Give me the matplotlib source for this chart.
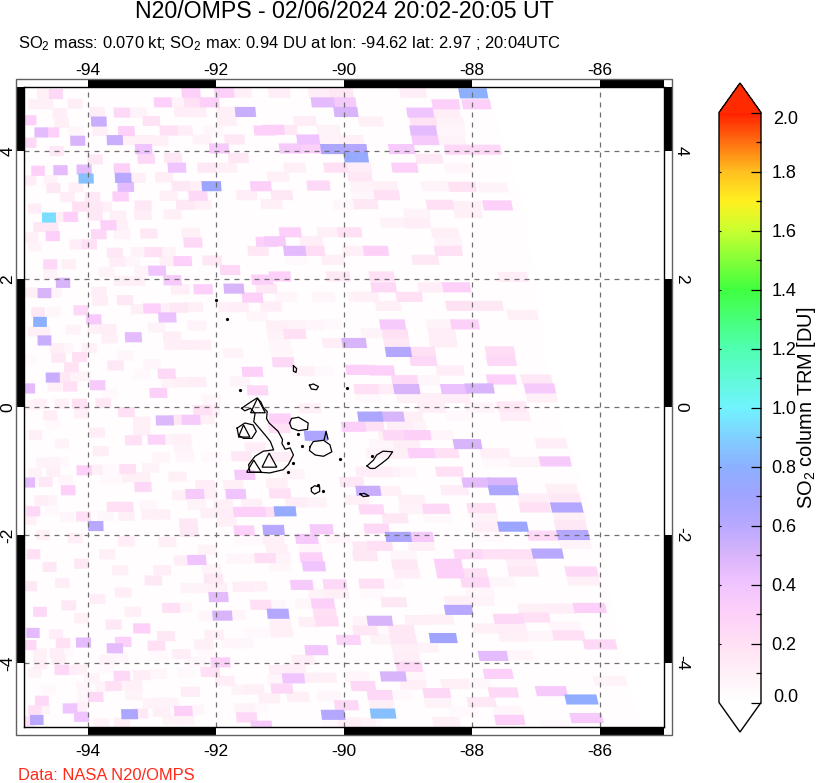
# Plot one OMPS SO2 overpass of the Galapagos, cells
import matplotlib
matplotlib.use('Agg')
import numpy as np
import matplotlib.pyplot as plt
from matplotlib.cm import ScalarMappable
from matplotlib.collections import PolyCollection
from matplotlib.colors import LinearSegmentedColormap, Normalize
from matplotlib.patches import Rectangle

plt.rcParams['font.family'] = ['Liberation Sans', 'DejaVu Sans']
plt.rcParams['mathtext.default'] = 'regular'

title = 'N20/OMPS - 02/06/2024 20:02-20:05 UT'
subtitle = 'SO$_2$ mass: 0.070 kt; SO$_2$ max: 0.94 DU at lon: -94.62 lat: 2.97 ; 20:04UTC'
credit = 'Data: NASA N20/OMPS'
cbar_label = 'SO$_2$ column TRM [DU]'

lon_ticks = [-94, -92, -90, -88, -86]
lat_ticks = [-4, -2, 0, 2, 4]
cbar_ticks = [0.0, 0.2, 0.4, 0.6, 0.8, 1.0, 1.2, 1.4, 1.6, 1.8, 2.0]
cbar_minor = [0.1, 0.3, 0.5, 0.7, 0.9, 1.1, 1.3, 1.5, 1.7, 1.9]

# colour table, value then colour
color_values = [0, .1, .2, .3, .4, .5, .6, .7, .8, .9, 1.0, 1.2, 1.4, 1.6, 1.7, 1.8, 1.9, 2.0]
color_hex = ['#ffffff', '#fff0f8', '#ffe0f4', '#fdd0fa', '#f0c4ff', '#d8b4fb', '#b8a8ff', '#a0a4ff',
             '#8cb0ff', '#80d0ff', '#70f4ff', '#50ffb0', '#40ff40', '#c8ff30', '#fff020', '#ffc020',
             '#ff7010', '#ff2000']

# east edge of the swath
swath_lon = [-87.72, -87.48, -87.17, -86.78, -86.08, -85.53, -85.38]
swath_lat = [5.0, 3.98, 3.08, 0.27, -1.77, -4.42, -5.0]
swath_du = 0.015

# lon, lat, DU
cells_nw = [
    (-94.50, 4.89, .25), (-94.69, 4.89, .1), (-94.83, 4.73, .1), (-94.65, 4.73, .1), (-94.20, 4.74, .12),
    (-94.44, 4.59, .12), (-94.91, 4.48, .3), (-94.41, 4.44, .1), (-93.83, 4.46, .55), (-93.86, 4.61, .12),
    (-93.47, 4.60, .25), (-93.21, 4.60, .08), (-93.01, 4.47, .18), (-92.83, 4.76, .3), (-92.59, 4.76, .08),
    (-92.39, 4.91, .3), (-92.35, 4.76, .2), (-92.10, 4.76, .3), (-92.51, 4.61, .12), (-92.30, 4.61, .12),
    (-91.87, 4.91, .3), (-91.60, 4.91, .1), (-91.83, 4.61, .1), (-91.54, 4.61, .55), (-91.83, 4.47, .1),
    (-94.73, 4.29, .45), (-94.56, 4.29, .3), (-94.91, 4.13, .25), (-94.16, 4.16, .5), (-94.19, 4.30, .06),
    (-93.81, 4.31, .1), (-93.40, 4.31, .3), (-92.74, 4.32, .2), (-92.51, 4.32, .12), (-92.04, 4.32, .06),
    (-91.24, 4.32, .3), (-93.58, 4.17, .55), (-93.32, 4.17, .1), (-93.08, 4.17, .1), (-93.13, 4.03, .4),
    (-92.88, 4.16, .1), (-92.22, 4.18, .08), (-91.71, 4.18, .15), (-94.49, 4.00, .15), (-93.89, 3.87, .15),
    (-93.09, 3.88, .25), (-92.67, 3.89, .15), (-91.95, 4.04, .35), (-91.65, 3.89, .15), (-94.78, 3.69, .3),
    (-94.43, 3.70, .45), (-94.06, 3.71, .45), (-93.47, 3.73, .3), (-92.61, 3.74, .4), (-92.14, 3.74, .15),
    (-91.83, 3.74, .1), (-94.03, 3.57, .85), (-93.45, 3.58, .6), (-94.91, 3.54, .12), (-94.59, 3.55, .08),
    (-93.23, 3.58, .1), (-92.81, 3.59, .12), (-93.41, 3.44, .45), (-94.54, 3.42, .15), (-94.19, 3.43, .1),
    (-92.55, 3.45, .15), (-92.30, 3.45, .1), (-92.07, 3.45, .72), (-91.30, 3.45, .3), (-94.32, 3.28, .12),
    (-93.93, 3.28, .15), (-93.49, 3.29, .3), (-92.74, 3.30, .1), (-92.28, 3.30, .25), (-91.52, 3.31, .12),
    (-94.83, 3.10, .12), (-94.13, 3.13, .2), (-93.89, 3.13, .15), (-93.75, 3.13, .1), (-93.14, 3.15, .15),
    (-92.48, 3.16, .15), (-92.22, 3.16, .1), (-94.61, 2.96, .94), (-94.27, 2.97, .3), (-93.89, 2.99, .15),
    (-94.45, 2.97, .1), (-93.53, 2.99, .1), (-93.14, 3.00, .12), (-92.68, 3.01, .1), (-94.75, 2.81, .15),
    (-94.57, 2.81, .15), (-93.68, 2.84, .3), (-93.50, 2.84, .1), (-94.88, 2.65, .1), (-94.55, 2.67, .3),
    (-93.83, 2.70, .25), (-93.47, 2.70, .08), (-93.05, 2.71, .15), (-92.39, 2.72, .1), (-94.17, 2.54, .12),
    (-93.98, 2.54, .2), (-92.36, 2.57, .25), (-91.21, 2.58, .3), (-94.83, 2.51, .08), (-93.58, 2.41, .15),
    (-93.20, 2.42, .08), (-92.98, 2.42, .2), (-92.77, 2.42, .08), (-91.34, 2.44, .15), (-94.59, 2.23, .25),
    (-94.30, 2.23, .1), (-93.54, 2.27, .12), (-93.32, 2.27, .06), (-92.74, 2.28, .1), (-92.52, 2.28, .3),
    (-92.06, 2.29, .15), (-93.71, 2.11, .08), (-92.92, 2.13, .4), (-93.14, 2.13, .08), (-91.78, 2.14, .25),
    (-94.39, 1.94, .5), (-94.59, 2.08, .08), (-93.47, 1.97, .1), (-93.24, 1.97, .1), (-92.68, 1.98, .35),
    (-91.28, 1.99, .3),
]

cells_ne = [
    (-91.01, 4.91, .12), (-90.38, 4.91, .12), (-90.04, 4.90, .15), (-88.92, 4.91, .12), (-87.98, 4.90, .8),
    (-90.33, 4.76, .45), (-90.00, 4.76, .35), (-88.41, 4.73, .3), (-87.93, 4.73, .3), (-89.97, 4.61, .5),
    (-88.81, 4.60, .4), (-88.40, 4.60, .12), (-89.58, 4.46, .1), (-90.61, 4.47, .12), (-88.76, 4.46, .18),
    (-88.34, 4.46, .08), (-91.10, 4.33, .3), (-90.90, 4.33, .15), (-90.24, 4.33, .08), (-90.56, 4.18, .4),
    (-88.76, 4.32, .45), (-88.32, 4.32, .06), (-90.24, 4.18, .08), (-89.88, 4.17, .1), (-88.73, 4.17, .35),
    (-88.32, 4.17, .08), (-90.84, 4.04, .35), (-90.53, 4.04, .3), (-90.18, 4.03, .65), (-89.83, 4.03, .62),
    (-89.10, 4.03, .35), (-88.21, 4.02, .25), (-87.77, 4.02, .25), (-89.81, 3.90, .75), (-88.67, 3.88, .15),
    (-90.77, 3.74, .1), (-90.13, 3.74, .2), (-89.76, 3.74, .12), (-89.05, 3.74, .3), (-88.21, 3.73, .06),
    (-91.03, 3.60, .1), (-89.75, 3.60, .15), (-90.40, 3.46, .25), (-89.71, 3.45, .08), (-89.36, 3.45, .1),
    (-88.58, 3.45, .08), (-88.15, 3.44, .18), (-87.67, 3.43, .08), (-90.97, 3.31, .15), (-89.70, 3.31, .06),
    (-89.33, 3.31, .2), (-89.98, 3.16, .06), (-89.66, 3.17, .15), (-88.50, 3.16, .2), (-88.07, 3.14, .1),
    (-87.60, 3.15, .3), (-91.13, 3.17, .1), (-88.06, 3.03, .1), (-88.86, 3.02, .08), (-89.23, 2.88, .08),
    (-88.86, 2.87, .12), (-90.84, 2.73, .3), (-90.24, 2.73, .1), (-89.91, 2.73, .2), (-88.42, 2.72, .1),
    (-91.08, 2.59, .35), (-90.51, 2.59, .12), (-88.37, 2.58, .08), (-90.77, 2.44, .45), (-90.48, 2.44, .22),
    (-89.83, 2.44, .1), (-89.50, 2.44, .3), (-88.37, 2.44, .2), (-88.73, 2.30, .15), (-90.74, 2.30, .05),
    (-90.17, 2.30, .1), (-91.00, 2.04, .3), (-90.09, 2.04, .15), (-89.41, 2.04, .2), (-87.36, 2.03, .12),
]

cells_east = [
    (-89.38, 1.87, .25), (-88.63, 1.87, .12), (-88.24, 1.87, .3), (-89.65, 1.72, .1), (-88.98, 1.72, .2),
    (-89.31, 1.58, .1), (-88.19, 1.58, .18), (-87.74, 1.58, .15), (-87.21, 1.44, .1), (-89.24, 1.29, .35),
    (-88.50, 1.29, .08), (-88.11, 1.29, .3), (-89.54, 1.15, .08), (-89.20, 1.15, .2), (-88.47, 1.15, .12),
    (-89.18, 1.01, .15), (-88.45, 1.01, .12), (-89.15, 0.86, .62), (-88.78, 0.86, .2), (-87.56, 0.87, .22),
    (-88.76, 0.72, .25), (-87.54, 0.72, .25), (-88.34, 0.57, .12), (-89.67, 0.58, .2), (-89.41, 0.57, .3),
    (-89.05, 0.42, .25), (-88.71, 0.42, .06), (-87.54, 0.43, .3), (-86.99, 0.43, .15), (-89.65, 0.28, .2),
    (-89.36, 0.28, .12), (-89.02, 0.28, .5), (-88.27, 0.28, .42), (-87.88, 0.29, .5), (-86.94, 0.29, .35),
    (-88.97, 0.14, .1), (-88.63, 0.14, .1), (-88.24, 0.14, .12), (-89.62, 0.14, .05), (-86.91, 0.15, .1),
    (-88.63, -0.01, .12), (-87.88, -0.01, .08), (-87.38, 0.01, .15), (-88.97, -0.15, .1), (-89.59, -0.15, .65),
    (-89.26, -0.15, .5), (-88.19, -0.14, .05), (-87.33, -0.14, .12), (-88.92, -0.30, .08), (-89.57, -0.30, .2),
    (-89.19, -0.44, .25), (-88.85, -0.44, .3), (-88.50, -0.44, .07), (-88.07, -0.58, .5), (-89.41, -0.58, .06),
    (-86.76, -0.57, .12), (-88.79, -0.72, .3), (-88.42, -0.72, .2), (-87.64, -0.72, .1), (-89.13, -0.73, .1),
    (-87.61, -0.86, .05), (-87.17, -0.86, .08), (-86.70, -0.85, .35), (-89.44, -1.02, .12), (-89.07, -1.02, .06),
    (-88.35, -1.01, .2),
]

cells_se = [
    (-87.93, -1.18, .45), (-87.52, -1.18, .5), (-87.51, -1.30, .65), (-88.27, -1.30, .12), (-89.31, -1.31, .1),
    (-86.60, -1.28, .1), (-88.94, -1.45, .1), (-87.04, -1.43, .12), (-86.55, -1.43, .15), (-86.52, -1.57, .62),
    (-88.56, -1.59, .25), (-87.85, -1.58, .2), (-88.94, -1.60, .08), (-89.57, -1.60, .25), (-87.02, -1.57, .2),
    (-89.20, -1.74, .15), (-88.54, -1.73, .05), (-87.82, -1.73, .08), (-86.48, -1.71, .1), (-87.36, -1.87, .72),
    (-87.77, -1.87, .12), (-86.46, -1.85, .15), (-89.49, -1.90, .25), (-89.15, -2.03, .65), (-88.81, -2.03, .35),
    (-87.74, -2.03, .05), (-86.89, -2.01, .25), (-86.42, -2.00, .62), (-89.44, -2.17, .2), (-88.79, -2.17, .1),
    (-86.39, -2.14, .08), (-89.67, -2.18, .15), (-89.67, -2.33, .15), (-88.06, -2.30, .25), (-87.67, -2.30, .2),
    (-87.25, -2.30, .2), (-86.82, -2.29, .6), (-89.07, -2.32, .06), (-88.37, -2.45, .3), (-89.05, -2.46, .15),
    (-87.23, -2.44, .12), (-89.02, -2.60, .12), (-88.34, -2.60, .3), (-87.98, -2.60, .2), (-87.20, -2.57, .15),
    (-86.29, -2.57, .25), (-87.95, -2.74, .25), (-87.56, -2.73, .06), (-86.26, -2.71, .1), (-89.57, -2.76, .2),
    (-89.28, -2.76, .05), (-89.57, -2.90, .05), (-89.22, -3.05, .15), (-88.21, -3.03, .1), (-87.88, -3.03, .08),
    (-87.88, -2.89, .07), (-88.21, -3.17, .6), (-89.44, -3.34, .5), (-87.04, -3.15, .1), (-86.63, -3.15, .12),
    (-86.16, -3.14, .3), (-87.43, -3.31, .25), (-87.02, -3.29, .2), (-89.67, -3.35, .08), (-88.84, -3.33, .1),
    (-88.50, -3.32, .1), (-87.77, -3.46, .1), (-87.38, -3.45, .12), (-86.55, -3.43, .07), (-89.10, -3.48, .15),
    (-89.41, -3.48, .05), (-89.67, -3.49, .15), (-88.45, -3.61, .7), (-89.07, -3.63, .15), (-89.39, -3.63, .08),
    (-87.35, -3.59, .1), (-86.96, -3.58, .06), (-86.49, -3.57, .2), (-86.00, -3.71, .25), (-88.73, -3.76, .08),
    (-89.05, -3.77, .1), (-87.67, -3.89, .45), (-87.28, -3.88, .07), (-89.02, -3.92, .12), (-88.98, -4.06, .25),
    (-89.23, -4.21, .5), (-88.92, -4.21, .06), (-87.59, -4.17, .3), (-88.27, -4.33, .1), (-88.92, -4.34, .1),
    (-87.93, -4.32, .06), (-89.70, -4.36, .25), (-85.84, -4.28, .08), (-88.55, -4.47, .25), (-87.51, -4.46, .25),
    (-86.76, -4.44, .35), (-89.44, -4.50, .25), (-89.15, -4.50, .05), (-87.85, -4.61, .15), (-88.53, -4.62, .08),
    (-89.41, -4.65, .1), (-86.29, -4.57, .78), (-89.39, -4.79, .85), (-88.14, -4.76, .05), (-87.43, -4.75, .07),
    (-86.21, -4.86, .35), (-88.40, -4.92, .1), (-87.41, -4.89, .3), (-89.62, -4.93, .05), (-86.68, -4.97, .05),
]

cells_west = [
    (-94.68, 1.78, .5), (-94.88, 1.79, .1), (-94.52, 1.79, .08), (-93.83, 1.80, .12), (-92.20, 1.84, .3),
    (-92.56, 1.84, .12), (-93.81, 1.66, .12), (-93.42, 1.67, .15), (-94.78, 1.48, .15), (-94.54, 1.49, .06),
    (-94.11, 1.51, .25), (-93.20, 1.53, .1), (-93.00, 1.54, .3), (-92.81, 1.54, .1), (-92.58, 1.55, .15),
    (-92.35, 1.56, .1), (-94.75, 1.33, .8), (-93.91, 1.37, .35), (-92.76, 1.40, .42), (-93.89, 1.22, .1),
    (-93.68, 1.22, .12), (-94.84, 1.18, .1), (-94.70, 1.18, .1), (-94.23, 1.21, .08), (-93.29, 1.09, .45),
    (-93.66, 1.07, .1), (-92.93, 1.24, .08), (-92.30, 1.27, .08), (-92.69, 1.10, .12), (-94.68, 1.04, .55),
    (-92.67, 0.97, .1), (-92.43, 0.97, .12), (-92.22, 0.97, .1), (-94.49, 0.92, .1), (-94.33, 0.92, .06),
    (-93.98, 0.92, .1), (-94.46, 0.77, .15), (-94.13, 0.78, .2), (-93.42, 0.80, .06), (-94.91, 0.74, .05),
    (-94.26, 0.62, .18), (-93.57, 0.65, .15), (-93.00, 0.67, .06), (-94.55, 0.46, .55), (-94.39, 0.46, .15),
    (-94.23, 0.47, .08), (-94.07, 0.48, .08), (-93.16, 0.51, .05), (-92.77, 0.52, .25), (-94.93, 0.29, .45),
    (-94.52, 0.32, .1), (-94.28, 0.32, .2), (-93.85, 0.34, .35), (-92.90, 0.22, .3), (-93.66, 0.21, .05),
    (-92.72, 0.38, .08), (-92.51, 0.39, .1), (-92.30, 0.39, .12), (-92.07, 0.11, .06), (-92.21, -0.05, .2),
    (-94.75, 0.05, .1), (-94.41, 0.05, .1), (-94.13, 0.05, .2), (-93.76, 0.06, .15), (-94.85, 0.03, .08),
    (-94.10, -0.10, .1), (-94.59, -0.13, .12), (-93.40, -0.08, .2), (-92.80, -0.21, .48), (-92.59, -0.20, .15),
    (-92.39, -0.20, .35), (-92.17, -0.19, .1), (-94.54, -0.27, .05), (-93.16, -0.23, .1), (-93.86, -0.40, .12),
    (-93.16, -0.37, .1), (-94.82, -0.44, .1), (-93.29, -0.52, .2), (-92.93, -0.51, .28), (-92.72, -0.51, .08),
    (-92.53, -0.50, .1), (-94.41, -0.57, .08), (-93.80, -0.69, .12), (-92.51, -0.65, .08), (-92.48, -0.79, .06),
    (-92.86, -0.79, .07), (-92.07, -0.78, .05), (-94.70, -0.87, .08), (-94.54, -0.86, .08), (-94.41, -0.86, .05),
    (-94.06, -0.99, .3), (-93.89, -0.98, .1), (-93.71, -0.98, .05), (-93.55, -0.98, .05), (-93.38, -0.97, .2),
    (-93.02, -0.95, .08), (-94.54, -1.01, .1), (-94.83, -1.03, .08), (-94.93, -1.18, .45), (-94.66, -1.17, .15),
    (-94.81, -1.18, .05), (-94.35, -1.14, .06), (-92.60, -1.09, .1), (-93.68, -1.13, .05), (-93.53, -1.12, .05),
    (-93.34, -1.10, .1), (-93.16, -1.10, .1), (-94.31, -1.30, .3), (-93.14, -1.25, .25), (-92.17, -1.22, .12),
    (-92.15, -1.35, .1), (-92.54, -1.38, .1), (-92.33, -1.36, .35), (-92.12, -1.36, .1), (-94.73, -1.46, .12),
    (-94.59, -1.46, .08), (-92.30, -1.53, .08), (-94.85, -1.63, .25), (-94.98, -1.62, .15), (-94.57, -1.61, .05),
    (-93.58, -1.56, .2), (-93.42, -1.56, .2), (-93.06, -1.54, .06), (-93.40, -1.70, .1), (-93.73, -1.70, .06),
    (-94.33, -1.72, .06), (-94.07, -1.71, .2), (-94.91, -1.76, .1),
]

# lower west corner
cells_lower_west = [
    (-93.88, -1.86, .6), (-94.86, -3.53, .45), (-94.85, -2.30, .2), (-94.60, -2.50, .15), (-94.20, -2.05, .12),
    (-94.70, -2.00, .1), (-94.40, -2.75, .12), (-94.10, -2.45, .15), (-93.70, -2.30, .1), (-94.75, -3.20, .25),
    (-94.30, -3.10, .15), (-93.85, -3.00, .12), (-93.45, -2.90, .12), (-93.60, -3.40, .15), (-94.50, -3.55, .12),
    (-94.10, -3.30, .1), (-93.40, -2.10, .12), (-93.50, -2.55, .1), (-94.90, -2.80, .15), (-93.30, -3.20, .1),
]

cells_south = [
    (-91.89, -1.52, .1), (-91.44, -1.51, .1), (-90.74, -1.49, .12), (-90.45, -1.49, .08), (-93.03, -1.68, .1),
    (-92.85, -1.68, .1), (-92.09, -1.66, .1), (-91.89, -1.66, .12), (-91.57, -1.64, .3), (-91.39, -1.64, .3),
    (-91.18, -1.64, .2), (-90.92, -1.63, .75), (-91.83, -1.79, .1), (-92.43, -1.82, .15), (-92.42, -1.95, .15),
    (-91.56, -1.93, .3), (-91.10, -1.92, .6), (-90.35, -1.91, .35), (-90.58, -2.06, .35), (-91.10, -2.08, .1),
    (-91.55, -2.08, .05), (-91.31, -2.07, .05), (-90.09, -2.05, .07), (-92.76, -2.11, .1), (-92.14, -2.23, .08),
    (-91.05, -2.22, .1), (-90.53, -2.21, .07), (-92.30, -2.39, .4), (-92.51, -2.40, .12), (-91.68, -2.37, .07),
    (-91.44, -2.37, .07), (-91.23, -2.36, .22), (-91.00, -2.35, .08), (-90.51, -2.35, .3), (-90.47, -2.49, .4),
    (-92.84, -2.55, .12), (-92.07, -2.53, .08), (-91.00, -2.49, .06), (-92.04, -2.68, .15), (-92.98, -2.71, .15),
    (-92.41, -2.83, .08), (-92.22, -2.83, .08), (-91.98, -2.82, .1), (-91.58, -2.81, .12), (-91.36, -2.80, .1),
    (-90.66, -2.78, .35), (-90.14, -2.77, .25), (-90.38, -2.92, .08), (-90.11, -2.92, .1), (-91.96, -2.97, .45),
    (-90.33, -3.07, .3), (-90.59, -3.07, .06), (-91.30, -3.09, .2), (-91.08, -3.09, .06), (-92.70, -3.14, .2),
    (-92.52, -3.13, .06), (-91.90, -3.26, .5), (-91.69, -3.25, .07), (-91.03, -3.23, .62), (-90.30, -3.22, .2),
    (-92.12, -3.27, .06), (-90.27, -3.35, .22), (-90.53, -3.36, .1), (-91.00, -3.37, .1), (-93.16, -3.46, .3),
    (-92.78, -3.58, .15), (-92.03, -3.56, .1), (-91.39, -3.53, .05), (-91.21, -3.53, .05), (-90.97, -3.52, .1),
    (-89.93, -3.64, .28), (-92.19, -3.71, .1), (-92.93, -3.73, .2), (-91.76, -3.69, .06), (-91.57, -3.69, .06),
    (-90.43, -3.80, .38), (-92.54, -3.86, .12), (-92.89, -3.88, .05), (-92.15, -3.85, .05), (-90.64, -3.95, .12),
    (-91.93, -3.99, .3), (-92.30, -3.98, .06), (-93.16, -4.19, .12), (-92.90, -4.17, .06), (-92.46, -4.15, .05),
    (-92.09, -4.14, .2), (-91.00, -4.11, .12), (-90.77, -4.10, .12), (-89.80, -4.21, .06), (-90.79, -4.24, .4),
    (-91.86, -4.28, .12), (-90.58, -4.23, .1), (-90.30, -4.23, .1), (-91.03, -4.26, .06), (-93.27, -4.40, .07),
    (-91.60, -4.42, .08), (-91.41, -4.41, .1), (-90.97, -4.40, .25), (-92.40, -4.45, .12), (-91.17, -4.55, .1),
    (-90.72, -4.53, .1), (-90.23, -4.52, .06), (-89.96, -4.66, .25), (-93.01, -4.63, .08), (-92.85, -4.62, .08),
    (-92.72, -4.62, .08), (-92.51, -4.75, .3), (-93.19, -4.79, .15), (-92.85, -4.76, .1), (-92.33, -4.73, .07),
    (-91.55, -4.71, .08), (-91.35, -4.70, .05), (-90.17, -4.81, .62), (-91.52, -4.85, .25), (-92.69, -4.89, .08),
    (-92.48, -4.89, .08), (-91.29, -4.98, .35), (-89.91, -4.93, .1), (-89.70, -4.94, .08), (-90.17, -4.95, .05),
]

cells_sw = [
    (-94.91, -3.72, .25), (-94.39, -3.69, .2), (-94.07, -3.68, .45), (-93.58, -3.77, .45), (-93.45, -3.67, .3),
    (-94.75, -3.85, .1), (-94.49, -3.85, .12), (-94.33, -3.82, .05), (-94.75, -4.01, .12), (-94.46, -3.95, .12),
    (-93.71, -3.95, .08), (-93.50, -3.91, .06), (-94.83, -4.15, .08), (-94.41, -4.11, .25), (-94.28, -4.11, .12),
    (-94.13, -4.10, .1), (-93.71, -4.08, .05), (-93.47, -4.20, .25), (-93.94, -4.24, .08), (-94.62, -4.42, .05),
    (-94.07, -4.37, .07), (-93.76, -4.37, .08), (-93.60, -4.36, .2), (-93.45, -4.35, .08), (-93.29, -4.34, .1),
    (-94.05, -4.54, .06), (-93.88, -4.53, .25), (-93.29, -4.50, .08), (-94.72, -4.59, .25), (-94.83, -4.74, .2),
    (-94.28, -4.71, .4), (-94.13, -4.69, .1), (-94.70, -4.72, .08), (-93.35, -4.80, .65), (-94.10, -4.84, .4),
    (-94.93, -4.91, .2), (-94.80, -4.89, .6), (-93.79, -4.94, .08), (-93.47, -4.93, .1),
]

cells_center = [
    (-91.72, 1.85, .5), (-91.21, 1.85, .15), (-91.43, 1.71, .3), (-90.90, 1.72, .06), (-90.32, 1.72, .06),
    (-89.75, 1.72, .08), (-91.81, 1.56, .1), (-91.65, 1.56, .12), (-91.14, 1.57, .12), (-91.36, 1.42, .07),
    (-91.05, 1.27, .1), (-90.77, 1.28, .08), (-90.51, 1.28, .07), (-90.22, 1.29, .05), (-90.77, 1.14, .2),
    (-91.03, 1.13, .08), (-90.15, 1.00, .12), (-89.84, 1.00, .5), (-91.00, 0.97, .06), (-91.73, 0.84, .08),
    (-90.97, 0.84, .06), (-90.95, 0.70, .25), (-91.43, 0.55, .3), (-90.64, 0.56, .1), (-90.35, 0.56, .05),
    (-89.78, 0.58, .3), (-91.63, 0.40, .08), (-91.35, 0.26, .25), (-91.00, -0.18, .3), (-90.53, -0.02, .1),
    (-89.85, -0.31, .3), (-89.13, -0.30, .12), (-92.09, -0.05, .1), (-90.44, -0.45, .65), (-91.01, -0.33, .2),
    (-89.26, -0.45, .1), (-91.39, -0.63, .12), (-91.00, -0.78, .12), (-91.60, -0.77, .15), (-89.02, -0.58, .12),
    (-89.46, -0.72, .08), (-91.55, -1.06, .35), (-90.79, -1.05, .08), (-89.62, -1.01, .12), (-89.33, -1.01, .08),
    (-91.73, -1.22, .1), (-91.05, -1.19, .1), (-89.88, -1.17, .15), (-91.69, -1.36, .4), (-91.00, -1.35, .2),
    (-89.62, -1.31, .55), (-89.80, -1.45, .1),
]

# island outlines, lon and lat
isabela_lon = [-91.60, -91.47, -91.36, -91.30, -91.26, -91.20, -91.21, -91.17, -91.03, -90.96, -90.97, -90.92, -90.84,
               -90.79, -90.87, -90.95, -91.16, -91.31, -91.47, -91.49, -91.39, -91.26, -91.10, -91.15, -91.23, -91.34,
               -91.41, -91.39, -91.46, -91.55, -91.60]
isabela_lat = [-0.02, 0.07, 0.14, 0.08, -0.01, -0.07, -0.18, -0.25, -0.38, -0.51, -0.57, -0.66, -0.64,
               -0.75, -0.90, -0.98, -1.03, -1.02, -1.02, -0.90, -0.77, -0.69, -0.67, -0.54, -0.44, -0.31,
               -0.23, -0.10, -0.02, -0.06, -0.02]
fernandina_lon = [-91.67, -91.55, -91.42, -91.37, -91.44, -91.57, -91.65, -91.67]
fernandina_lat = [-0.33, -0.25, -0.28, -0.38, -0.49, -0.49, -0.44, -0.33]
santa_cruz_lon = [-90.53, -90.48, -90.32, -90.22, -90.19, -90.32, -90.45, -90.54, -90.53]
santa_cruz_lat = [-0.62, -0.54, -0.52, -0.59, -0.70, -0.77, -0.75, -0.68, -0.62]
santiago_lon = [-90.85, -90.82, -90.71, -90.56, -90.57, -90.71, -90.82, -90.85]
santiago_lat = [-0.25, -0.18, -0.16, -0.25, -0.35, -0.37, -0.33, -0.25]
baltra_lon = [-90.31, -90.28, -90.25]
baltra_lat = [-0.51, -0.38, -0.50]
san_cristobal_lon = [-89.64, -89.54, -89.49, -89.39, -89.24, -89.31, -89.41, -89.52, -89.59, -89.64]
san_cristobal_lat = [-0.92, -0.83, -0.75, -0.69, -0.70, -0.80, -0.88, -0.96, -0.96, -0.92]
floreana_lon = [-90.51, -90.46, -90.38, -90.38, -90.46, -90.51, -90.51]
floreana_lat = [-1.27, -1.23, -1.25, -1.32, -1.36, -1.32, -1.27]
marchena_lon = [-90.54, -90.48, -90.40, -90.43, -90.51, -90.54]
marchena_lat = [0.34, 0.36, 0.32, 0.27, 0.28, 0.34]
pinta_lon = [-90.79, -90.74, -90.75, -90.79, -90.79]
pinta_lat = [0.646, 0.60, 0.54, 0.56, 0.646]
espanola_lon = [-89.75, -89.68, -89.61, -89.70, -89.75]
espanola_lat = [-1.36, -1.35, -1.39, -1.40, -1.36]
outlines = [(isabela_lon, isabela_lat), (fernandina_lon, fernandina_lat), (santa_cruz_lon, santa_cruz_lat),
            (santiago_lon, santiago_lat), (baltra_lon, baltra_lat), (san_cristobal_lon, san_cristobal_lat),
            (floreana_lon, floreana_lat), (marchena_lon, marchena_lat), (pinta_lon, pinta_lat),
            (espanola_lon, espanola_lat)]

# small rocks
rock_lon = [-89.96, -91.63, -92.00, -91.83, -90.87, -90.72, -90.66, -90.79, -90.87, -89.56, -90.40, -90.33, -90.07]
rock_lat = [0.30, 0.27, 1.67, 1.37, -0.56, -0.42, -0.61, -0.88, -1.02, -0.76, -1.22, -1.32, -0.82]

# volcano triangles
volcano_lon = [[-91.35, -91.46, -91.23], [-91.57, -91.65, -91.47], [-91.17, -91.28, -91.05], [-91.41, -91.52, -91.29]]
volcano_lat = [[0.14, -0.09, -0.09], [-0.28, -0.47, -0.47], [-0.72, -0.94, -0.94], [-0.83, -1.02, -1.02]]


def cell_corners(lon, lat):
    # footprints get wider and lean more towards the swath edge
    w = 0.205 + (lon + 95) * 0.034
    h = 0.158
    lean = 0.026 * (lon + 95) * h / 2
    return [(lon - w / 2 - lean, lat + h / 2), (lon + w / 2 - lean, lat + h / 2),
            (lon + w / 2 + lean, lat - h / 2), (lon - w / 2 + lean, lat - h / 2)]


W, H = 817, 783
fig = plt.figure(figsize=(W / 100, H / 100), dpi=100)
ax = fig.add_axes([24 / W, (H - 727) / H, 640 / W, 640 / H])
ax.set_xlim(-95, -85)
ax.set_ylim(-5, 5)
ax.set_xticks([])
ax.set_yticks([])

cmap = LinearSegmentedColormap.from_list('so2', [(v / 2.0, c) for v, c in zip(color_values, color_hex)], N=512)
cmap.set_over('#ff2a00')
cmap.set_under('white')
norm = Normalize(0, 2)

# faint swath background
swath = list(zip(swath_lon, swath_lat)) + [(-95, -5), (-95, 5)]
ax.fill([p[0] for p in swath], [p[1] for p in swath], color=cmap(norm(swath_du)), lw=0, zorder=1)

all_cells = (cells_nw + cells_ne + cells_east + cells_se + cells_west + cells_lower_west
             + cells_south + cells_sw + cells_center)
# paint the stronger cells last so they stay on top
all_cells = sorted(all_cells, key=lambda c: c[2])
polys = [cell_corners(c[0], c[1]) for c in all_cells]
coll = PolyCollection(polys, array=np.array([c[2] for c in all_cells]), cmap=cmap, norm=norm,
                      edgecolors='none', zorder=2)
ax.add_collection(coll)

# grid
for lon in lon_ticks:
    ax.plot([lon, lon], [-5, 5], color='#707070', lw=0.9, ls=(0, (4, 4)), zorder=3)
for lat in lat_ticks:
    ax.plot([-95, -85], [lat, lat], color='#707070', lw=0.9, ls=(0, (4, 4)), zorder=3)

# coast
for xs, ys in outlines:
    ax.plot(xs, ys, color='black', lw=0.9, zorder=4)
ax.plot(rock_lon, rock_lat, ls='none', marker='o', ms=1.3, color='black', zorder=4)
for xs, ys in zip(volcano_lon, volcano_lat):
    ax.fill(xs, ys, fc='none', ec='black', lw=0.9, zorder=5)

# checker frame round the map
band = 0.12
for x0, x1, c in [(-95, -94, 'white'), (-94, -92, 'black'), (-92, -90, 'white'),
                  (-90, -88, 'black'), (-88, -86, 'white'), (-86, -85, 'black')]:
    for y0 in (5, -5 - band):
        ax.add_patch(Rectangle((x0, y0), x1 - x0, band, fc=c, ec='none', clip_on=False))
for y0, y1, c in [(4, 5, 'black'), (2, 4, 'white'), (0, 2, 'black'),
                  (-2, 0, 'white'), (-4, -2, 'black'), (-5, -4, 'white')]:
    for x0 in (-95 - band, -85):
        ax.add_patch(Rectangle((x0, y0), band, y1 - y0, fc=c, ec='none', clip_on=False))
ax.add_patch(Rectangle((-95 - band, -5 - band), 10 + 2 * band, 10 + 2 * band, fc='none', ec='#606060',
                       lw=1.0, clip_on=False))
for s in ax.spines.values():
    s.set_linewidth(1.0)
    s.set_zorder(6)

# tick labels
for lon in lon_ticks:
    ax.text(lon, 5.26, str(lon), ha='center', va='center', fontsize=12.5)
    ax.text(lon, -5.39, str(lon), ha='center', va='center', fontsize=12.5)
for lat in lat_ticks:
    ax.text(-95.25, lat, str(lat), ha='center', va='center', rotation=90, fontsize=12.5)
    ax.text(-84.73, lat, str(lat), ha='center', va='center', rotation=-90, fontsize=12.5)

fig.text(344 / W, 1 - 12 / H, title, ha='center', va='center', fontsize=16.7)
fig.text(18 / W, 1 - 44 / H, subtitle, ha='left', va='center', fontsize=11.9)
fig.text(18 / W, 1 - 775 / H, credit, ha='left', va='center', fontsize=11.9, color='#ff2a1a')

# colour bar
cax = fig.add_axes([719 / W, (H - 732) / H, 42 / W, 649 / H])
cbar = fig.colorbar(ScalarMappable(norm=norm, cmap=cmap), cax=cax, extend='both', extendfrac=0.05)
cbar.set_ticks(cbar_ticks, labels=[''] + ['%.1f' % v for v in cbar_ticks[1:-1]] + [''])
cbar.ax.yaxis.set_ticks(cbar_minor, minor=True)
cax.tick_params(which='major', direction='in', length=7.2, width=0.9, pad=7.5, labelsize=13, color='black')
cax.tick_params(which='minor', direction='in', length=3.6, width=0.9, color='black')
cax.hlines(cbar_ticks[1:-1], 0, 0.05, color='black', lw=0.8)
cbar.outline.set_linewidth(1.0)
# end labels sit inside the bar range
fig.text(773 / W, 1 - 119 / H, '%.1f' % cbar_ticks[-1], ha='left', va='center', fontsize=13)
fig.text(773 / W, 1 - 697 / H, '%.1f' % cbar_ticks[0], ha='left', va='center', fontsize=13)
fig.text(806 / W, 1 - 408 / H, cbar_label, rotation=90, ha='center', va='center', fontsize=14.4)

fig.savefig('out.png', dpi=100)
